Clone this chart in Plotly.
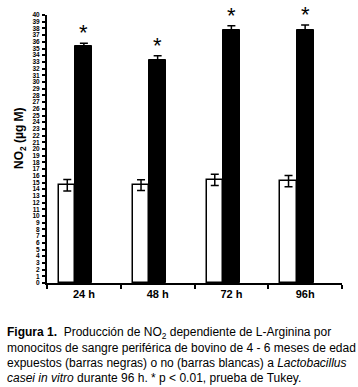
import plotly.graph_objects as go

categories = ["24 h", "48 h", "72 h", "96h"]
control_values = [14.6, 14.6, 15.4, 15.2]
control_err = [0.85, 0.8, 0.85, 0.85]
exposed_values = [35.4, 33.3, 37.7, 37.8]
exposed_err = [0.4, 0.6, 0.7, 0.7]
y_ticks = list(range(0, 41))

caption_lines = [
    "<b>Figura 1.</b>  Producción de NO<sub>2</sub> dependiente de L-Arginina por",
    "monocitos de sangre periférica de bovino de 4 - 6 meses de edad",
    "expuestos (barras negras) o no (barras blancas) a <i>Lactobacillus</i>",
    "<i>casei in vitro</i> durante 96 h. * p &lt; 0.01, prueba de Tukey.",
]

W, H = 358, 387
ML, MR, MT, MB = 47, 16, 15, 104
plot_w = W - ML - MR
plot_h = H - MT - MB

xpos = list(range(len(categories)))

fig = go.Figure()
fig.add_trace(go.Bar(
    x=xpos, y=control_values, width=0.22, offset=-0.335,
    marker=dict(color="white", line=dict(color="black", width=1.5)),
    error_y=dict(type="data", array=control_err, color="black", thickness=1.5, width=4),
    showlegend=False,
))
fig.add_trace(go.Bar(
    x=xpos, y=exposed_values, width=0.23, offset=-0.115,
    marker=dict(color="black", line=dict(color="black", width=1)),
    error_y=dict(type="data", array=exposed_err, color="black", thickness=1.5, width=4),
    showlegend=False,
))

for i, (v, e) in enumerate(zip(exposed_values, exposed_err)):
    fig.add_annotation(x=i, y=v + e, text="*", showarrow=False,
                       xanchor="center", yanchor="bottom", yshift=-4,
                       font=dict(family="Liberation Sans", size=22, color="black"))

fig.update_layout(
    width=W, height=H,
    margin=dict(l=ML, r=MR, t=MT, b=MB, autoexpand=False),
    plot_bgcolor="white", paper_bgcolor="white",
    bargap=0, barmode="overlay",
)
fig.update_xaxes(
    range=[-0.5, 3.5], tickvals=xpos, ticktext=categories,
    ticks="", showgrid=False, zeroline=False, automargin=False,
    showline=True, linecolor="black", linewidth=2,
    tickfont=dict(family="Liberation Sans", size=11, color="black", weight="bold"),
    minor=dict(tickvals=[-0.5, 0.5, 1.5, 2.5, 3.5], ticks="outside", ticklen=4,
               tickcolor="black", tickwidth=1.5, showgrid=False),
)
fig.update_yaxes(
    range=[0, 40], tickvals=y_ticks, ticktext=[str(t) for t in y_ticks],
    ticks="outside", ticklen=3, tickwidth=1.5, tickcolor="black", automargin=False,
    showgrid=False, zeroline=False, showline=True, linecolor="black", linewidth=2,
    tickfont=dict(family="Liberation Sans", size=6.5, color="black", weight="bold"),
    ticklabelstandoff=1,
)

fig.add_annotation(x=(20 - ML) / plot_w, y=(H - MB - 138) / plot_h, xref="paper", yref="paper",
                   text="<b>NO<sub>2</sub> (µg M)</b>", textangle=-90, showarrow=False,
                   xanchor="center", yanchor="middle",
                   font=dict(family="Liberation Sans", size=12, color="black"))

for k, line in enumerate(caption_lines):
    ypx = 333 + 15 * k
    fig.add_annotation(x=(5 - ML) / plot_w, y=(H - MB - ypx) / plot_h,
                       xref="paper", yref="paper",
                       text=line, showarrow=False, xanchor="left", yanchor="middle",
                       font=dict(family="Liberation Sans", size=12, color="black"))

fig.write_html("out.html", config={"displayModeBar": False},
               post_script="document.body.style.margin='0';document.body.style.overflow='hidden';")
